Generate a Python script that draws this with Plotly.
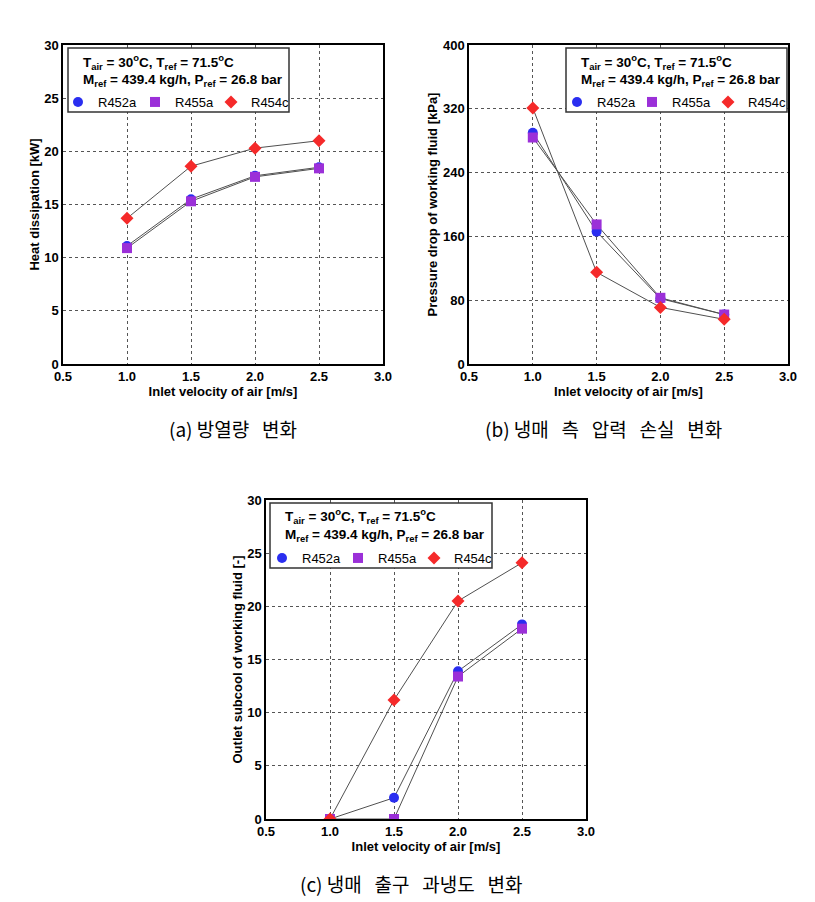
import plotly.graph_objects as go

W, H = 815, 902

velocity = [1.0, 1.5, 2.0, 2.5]
series_names = ["R452a", "R455a", "R454c"]

heat_R452a = [11.1, 15.5, 17.7, 18.5]
heat_R455a = [10.9, 15.3, 17.6, 18.4]
heat_R454c = [13.7, 18.6, 20.3, 21.0]

dp_R452a = [290, 166, 82, 62]
dp_R455a = [284, 175, 83, 62]
dp_R454c = [321, 115, 71, 56]

sc_R452a = [0.0, 2.0, 13.9, 18.3]
sc_R455a = [0.0, 0.0, 13.4, 17.9]
sc_R454c = [0.0, 11.2, 20.5, 24.1]

x_ticks = [0.5, 1.0, 1.5, 2.0, 2.5, 3.0]
heat_ticks = [0, 5, 10, 15, 20, 25, 30]
dp_ticks = [0, 80, 160, 240, 320, 400]
sc_ticks = [0, 5, 10, 15, 20, 25, 30]

x_title = "Inlet velocity of air [m/s]"
y_titles = ["Heat dissipation [kW]", "Pressure drop of working fluid [kPa]",
            "Outlet subcool of working fluid [-]"]
NB = "\u00a0"
SP = NB * 3
captions = ["(a) 방열량" + SP + "변화",
            "(b) 냉매" + SP + "측" + SP + "압력" + SP + "손실" + SP + "변화",
            "(c) 냉매" + SP + "출구" + SP + "과냉도" + SP + "변화"]
cond1 = "T<sub>air</sub> = 30<sup>o</sup>C, T<sub>ref</sub> = 71.5<sup>o</sup>C"
cond2 = "M<sub>ref</sub> = 439.4 kg/h, P<sub>ref</sub> = 26.8 bar"

colors = ["#2a2ef0", "#9b30d8", "#f52a2a"]
symbols = ["circle", "square", "diamond"]
line_color = "#505050"


def px(x):
    return x / W


def py(y):
    return 1 - y / H


panels = [
    dict(data=[heat_R452a, heat_R455a, heat_R454c], yticks=heat_ticks,
         xd=(63, 383), yd=(45, 364), box=(68, 289, 48, 112), tx=81, ty=(62, 80), ly=102,
         lx=(78, 155, 231), cap=(233, 428)),
    dict(data=[dp_R452a, dp_R455a, dp_R454c], yticks=dp_ticks,
         xd=(469, 788), yd=(45, 364), box=(566, 787, 48, 112), tx=579, ty=(62, 80), ly=102,
         lx=(577, 652, 728), cap=(603, 428)),
    dict(data=[sc_R452a, sc_R455a, sc_R454c], yticks=sc_ticks,
         xd=(266, 586), yd=(500, 819), box=(270, 492, 503, 568), tx=283, ty=(516, 535), ly=558,
         lx=(282, 358, 434), cap=(411, 883)),
]

fig = go.Figure()
layout = dict(width=W, height=H, margin=dict(l=0, r=0, t=0, b=0),
              paper_bgcolor="white", plot_bgcolor="white",
              font=dict(family="Liberation Sans, Arial", color="black"),
              annotations=[], shapes=[])

tick_font = dict(family="Liberation Sans, Arial", size=13, color="black", weight="bold")
title_font = dict(family="Liberation Sans, Arial", size=13, color="black", weight="bold")

for i, p in enumerate(panels):
    k = "" if i == 0 else str(i + 1)
    for j, name in enumerate(series_names):
        fig.add_trace(go.Scatter(
            x=velocity, y=p["data"][j], mode="lines", showlegend=False,
            xaxis="x" + k, yaxis="y" + k, hoverinfo="skip",
            line=dict(color=line_color, width=1),
        ))
    for j, name in enumerate(series_names):
        n = i * 3 + j + 1
        legname = "legend" if n == 1 else "legend" + str(n)
        fig.add_trace(go.Scatter(
            x=velocity, y=p["data"][j], mode="markers", name=name,
            xaxis="x" + k, yaxis="y" + k, legend=legname,
            marker=dict(symbol=symbols[j], size=10, color=colors[j],
                        line=dict(width=0)),
        ))
        layout[legname] = dict(x=px(p["lx"][j] - 20), y=py(p["ly"]),
                               xanchor="left", yanchor="middle", bgcolor="rgba(0,0,0,0)",
                               borderwidth=0,
                               font=dict(family="Liberation Sans, Arial", size=13, color="black"),
                               itemclick=False, itemdoubleclick=False)
    ax = dict(domain=[px(p["xd"][0]), px(p["xd"][1])], range=[0.5, 3.0],
              tickvals=x_ticks, tickformat=".1f", ticks="", showline=True, mirror=True,
              linecolor="black", linewidth=1.5, showgrid=True, gridcolor="#555555",
              griddash="3px,3px", gridwidth=1, zeroline=False, tickfont=tick_font,
              title=dict(text=x_title, font=title_font, standoff=2), automargin=False,
              anchor="y" + k)
    ay = dict(domain=[py(p["yd"][1]), py(p["yd"][0])],
              range=[p["yticks"][0], p["yticks"][-1]], tickvals=p["yticks"], ticks="",
              showline=True, mirror=True, linecolor="black", linewidth=1.5,
              showgrid=True, gridcolor="#555555", griddash="3px,3px", gridwidth=1,
              zeroline=False, tickfont=tick_font,
              title=dict(text=y_titles[i], font=title_font, standoff=2), automargin=False,
              anchor="x" + k)
    layout["xaxis" + k] = ax
    layout["yaxis" + k] = ay
    x0, x1, y0, y1 = p["box"]
    layout["shapes"].append(dict(type="rect", xref="paper", yref="paper",
                                 x0=px(x0), x1=px(x1), y0=py(y1), y1=py(y0),
                                 line=dict(color="#333333", width=1.5),
                                 fillcolor="white", layer="above"))
    for t, yy in zip([cond1, cond2], p["ty"]):
        layout["annotations"].append(dict(
            text="<b>" + t + "</b>", xref="paper", yref="paper", x=px(p["tx"]), y=py(yy),
            xanchor="left", yanchor="middle", showarrow=False,
            font=dict(family="Liberation Sans, Arial", size=13.5, color="black")))
    layout["annotations"].append(dict(
        text=captions[i], xref="paper", yref="paper", x=px(p["cap"][0]), y=py(p["cap"][1]),
        xanchor="center", yanchor="middle", showarrow=False,
        font=dict(family="Noto Sans CJK KR", size=19, color="black")))

fig.update_layout(**layout)
fig.write_html("out.html", config={"displayModeBar": False},
               post_script="document.body.style.margin='0';document.body.style.overflow='hidden';")
